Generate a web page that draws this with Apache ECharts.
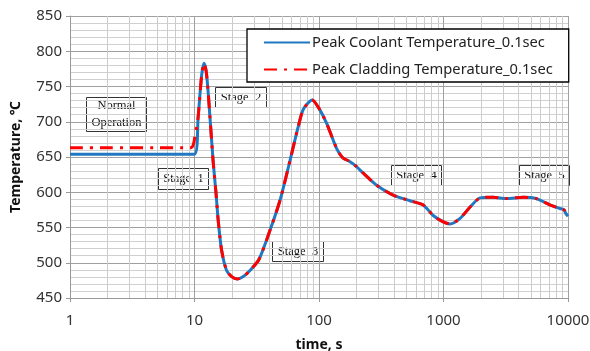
<!DOCTYPE html>
<html>
<head>
<meta charset="utf-8">
<script src="https://cdn.jsdelivr.net/npm/echarts@6/dist/echarts.min.js"></script>
<style>
  html, body { margin: 0; padding: 0; background: #fff; }
  #chart { width: 590px; height: 351px; }
</style>
</head>
<body>
<div id="chart"></div>
<script>
// time (s) and temperature (°C)
const coolantTime = [1, 10, 10.7, 11.4, 11.9, 12.4, 12.9, 14.1, 14.9, 15.5, 16.5, 18.1, 20, 22, 24.5, 27.9, 33, 40.4, 48.7, 58.5, 68.1, 75, 88.2, 100, 115, 138.6, 155, 175, 195, 227, 290, 394, 537, 687, 826, 996, 1129, 1358, 1635, 1968, 2510, 3210, 4360, 5570, 7150, 8610, 9300, 9600, 10000];
const coolantTemp = [654, 654, 707, 765, 783, 772, 740, 645, 598, 560, 518, 489, 480, 477, 480, 489, 505, 546, 589, 645, 693, 718, 731, 719, 698, 662, 649, 644, 638, 627, 610, 596, 588, 582, 567, 558, 555, 563, 579, 592, 593, 591, 593, 591, 582, 577, 575, 570, 566];

const claddingTime = [1, 9.3, 10.2, 10.7, 11.4, 11.9, 12.4, 12.9, 14.1, 14.9, 15.5, 16.5, 18.1, 20, 22, 24.5, 27.9, 33, 40.4, 48.7, 58.5, 68.1, 75, 88.2, 100, 115, 138.6, 155, 175, 195, 227, 290, 394, 537, 687, 826, 996, 1129, 1358, 1635, 1968, 2510, 3210, 4360, 5570, 7150, 8610, 9300, 9600, 10000];
const claddingTemp = [663, 663, 685, 707, 765, 783, 772, 740, 645, 598, 560, 518, 489, 480, 477, 480, 489, 505, 546, 589, 645, 693, 718, 731, 719, 698, 662, 649, 644, 638, 627, 610, 596, 588, 582, 567, 558, 555, 563, 579, 592, 593, 591, 593, 591, 582, 577, 575, 570, 566];

const minorTimeGrid = [2, 3, 4, 5, 6, 7, 8, 9, 20, 30, 40, 50, 60, 70, 80, 90, 200, 300, 400, 500, 600, 700, 800, 900, 2000, 3000, 4000, 5000, 6000, 7000, 8000, 9000];

const stageLabels = [
  { text: 'Normal\nOperation', left: 86, top: 97, width: 60, height: 34 },
  { text: 'Stage  1', left: 158, top: 168, width: 50, height: 21 },
  { text: 'Stage  2', left: 215, top: 87, width: 51, height: 20 },
  { text: 'Stage  3', left: 272, top: 241, width: 51, height: 20 },
  { text: 'Stage  4', left: 391, top: 165, width: 50, height: 20 },
  { text: 'Stage  5', left: 519, top: 165, width: 50, height: 20 }
];

const chart = echarts.init(document.getElementById('chart'), null, { renderer: 'canvas' });

const toPairs = (xs, ys) => xs.map((x, i) => [x, ys[i]]);

const option = {
  animation: false,
  backgroundColor: '#fff',
  textStyle: { fontFamily: 'Noto Sans' },
  grid: { left: 70, right: 22, top: 16, bottom: 53, outerBoundsMode: 'none' },
  legend: {
    orient: 'vertical',
    left: 247,
    top: 29,
    padding: [6, 16, 5, 16],
    itemGap: 12,
    itemWidth: 46,
    itemHeight: 14,
    backgroundColor: '#fff',
    borderColor: '#000',
    borderWidth: 1.3,
    borderRadius: 0,
    itemStyle: { opacity: 0 },
    textStyle: { fontSize: 14.7, color: '#222', fontFamily: 'Noto Sans', padding: [0, 0, 0, -3] },
    data: ['Peak Coolant Temperature_0.1sec', 'Peak Cladding Temperature_0.1sec']
  },
  xAxis: {
    type: 'log',
    logBase: 10,
    min: 1,
    max: 10000,
    name: 'time, s',
    nameLocation: 'middle',
    nameGap: 40,
    nameTextStyle: { fontSize: 14, fontWeight: 'bold', color: '#111' },
    axisLine: { lineStyle: { color: '#999' } },
    axisTick: { show: true, length: 4, lineStyle: { color: '#999' } },
    axisLabel: { fontSize: 15, color: '#333', margin: 15, formatter: (v) => String(v) },
    splitLine: { show: true, lineStyle: { color: '#a0a0a0', width: 1 } }
  },
  yAxis: {
    type: 'value',
    min: 450,
    max: 850,
    interval: 50,
    name: 'Temperature, ℃',
    nameLocation: 'middle',
    nameGap: 47,
    nameTextStyle: { fontSize: 14, fontWeight: 'bold', color: '#111' },
    axisLine: { show: true, lineStyle: { color: '#999' } },
    axisTick: { show: true, length: 4, lineStyle: { color: '#999' } },
    axisLabel: { fontSize: 15, color: '#333', margin: 8 },
    splitLine: { show: true, lineStyle: { color: '#a0a0a0', width: 1 } },
    minorTick: { show: false, splitNumber: 5 },
    minorSplitLine: { show: true, lineStyle: { color: '#d0d0d0', width: 1 } }
  },
  series: [
    {
      name: 'minor grid',
      type: 'custom',
      silent: true,
      z: 1,
      clip: false,
      data: minorTimeGrid.map((v) => [v, 450]),
      encode: { x: 0, y: 1 },
      renderItem: (params, api) => {
        const v = api.value(0);
        const top = api.coord([v, 850]);
        const bottom = api.coord([v, 450]);
        const x = Math.round(top[0]) + 0.5;
        return {
          type: 'line',
          shape: { x1: x, y1: top[1], x2: x, y2: bottom[1] },
          style: { stroke: '#cccccc', lineWidth: 1 }
        };
      }
    },
    {
      name: 'Peak Coolant Temperature_0.1sec',
      type: 'line',
      z: 3,
      smooth: 0.25,
      symbol: 'none',
      data: toPairs(coolantTime, coolantTemp),
      color: '#1f78c1',
      lineStyle: { color: '#1f78c1', width: 3 }
    },
    {
      name: 'Peak Cladding Temperature_0.1sec',
      type: 'line',
      z: 4,
      smooth: 0.25,
      symbol: 'none',
      data: toPairs(claddingTime, claddingTemp),
      color: '#ff0000',
      lineStyle: { color: '#ff0000', width: 3, type: [13, 7, 3, 7] }
    }
  ],
  graphic: stageLabels.map((s) => ({
    type: 'group',
    left: s.left,
    top: s.top,
    z: 10,
    children: [
      {
        type: 'rect',
        shape: { x: 0.5, y: 0.5, width: s.width, height: s.height },
        style: { fill: '#fff', stroke: '#333', lineWidth: 1 }
      },
      {
        type: 'text',
        x: s.width / 2 + 0.5,
        y: s.height / 2 + 0.5,
        style: {
          text: s.text,
          align: 'center',
          verticalAlign: 'middle',
          fontFamily: 'Liberation Serif',
          fontSize: 12.5,
          lineHeight: 17,
          fill: '#111'
        }
      }
    ]
  }))
};

chart.setOption(option);
</script>
</body>
</html>
